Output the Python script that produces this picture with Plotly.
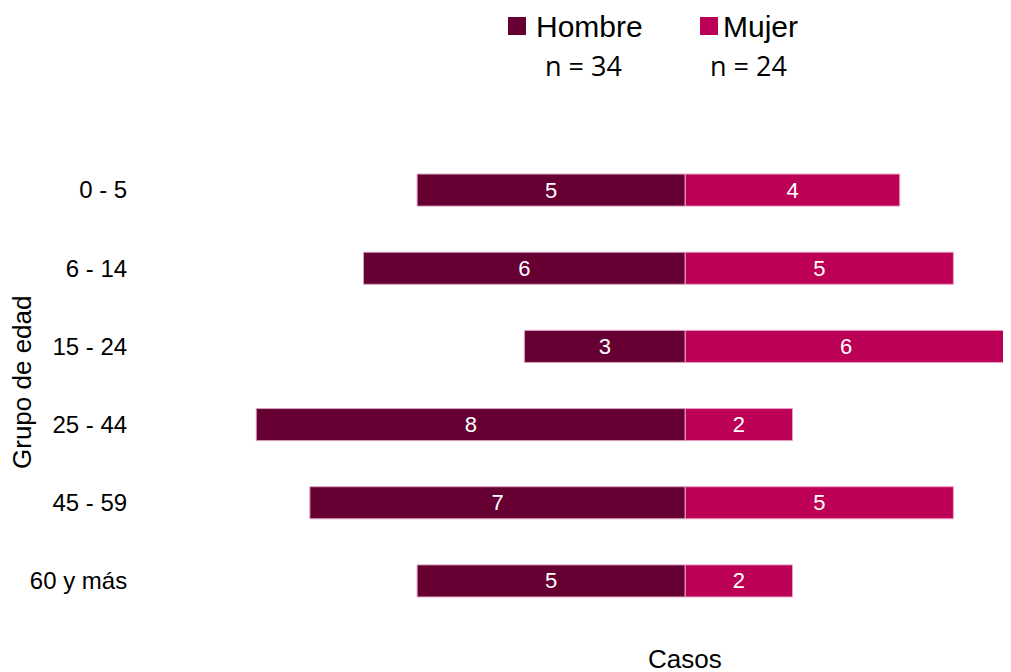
import plotly.graph_objects as go

age_groups = ["0 - 5", "6 - 14", "15 - 24", "25 - 44", "45 - 59", "60 y más"]
hombre = [5, 6, 3, 8, 7, 5]
mujer = [4, 5, 6, 2, 5, 2]
series_names = ["Hombre", "Mujer"]
series_n = [34, 24]
colors = ["#660033", "#BB0055"]

W, H = 1011, 672
OFF = 8  # page body margin
ML, MR, MT, MB = 141, 12, 143, 60
PW, PH = W - ML - MR, H - MT - MB


def px(xp):
    return (xp - OFF - ML) / PW


def py(yp):
    return (H - MB - (yp - OFF)) / PH


fig = go.Figure()
fig.add_trace(go.Bar(
    y=age_groups, x=[-v for v in hombre], orientation="h", name=series_names[0],
    marker=dict(color=colors[0], line=dict(color="#D9A0BC", width=1)),
    text=[str(v) for v in hombre], textposition="inside", insidetextanchor="middle",
    textfont=dict(color="white", size=22, family="Liberation Sans"),
    width=0.41, showlegend=False,
))
fig.add_trace(go.Bar(
    y=age_groups, x=mujer, orientation="h", name=series_names[1],
    marker=dict(color=colors[1], line=dict(color="#E8A0C4", width=1)),
    text=[str(v) for v in mujer], textposition="inside", insidetextanchor="middle",
    textfont=dict(color="white", size=22, family="Liberation Sans"),
    width=0.41, showlegend=False,
))

fig.update_layout(
    barmode="relative",
    width=W, height=H,
    margin=dict(l=ML, r=MR, t=MT, b=MB),
    plot_bgcolor="white", paper_bgcolor="white",
    font=dict(family="Liberation Sans", color="black"),
    showlegend=False,
    xaxis=dict(range=[-10, 6], showticklabels=False, showgrid=False, zeroline=False,
               showline=False, ticks="", automargin=False),
    yaxis=dict(autorange="reversed", showgrid=False, zeroline=False, showline=False,
               ticks="outside", ticklen=16, tickcolor="rgba(0,0,0,0)", automargin=False,
               tickfont=dict(size=24, family="Liberation Sans")),
)

# manual legend
sq_x = [508, 700]
txt_x = [534, 721]
n_x = [583, 748]
for i in range(2):
    fig.add_shape(type="rect", xref="paper", yref="paper",
                  x0=px(sq_x[i]), x1=px(sq_x[i] + 18), y0=py(35), y1=py(17),
                  fillcolor=colors[i], line=dict(width=0))
    fig.add_annotation(x=px(txt_x[i]), xref="paper", y=py(26), yref="paper",
                       xanchor="left", yanchor="middle", text=series_names[i], showarrow=False,
                       font=dict(size=30, family="Liberation Sans", color="black"))
    fig.add_annotation(x=px(n_x[i]), xref="paper", y=py(66), yref="paper",
                       xanchor="center", yanchor="middle", text=f"n = {series_n[i]}",
                       showarrow=False, font=dict(size=27, family="Open Sans", color="black"))

fig.add_annotation(x=0, xref="x", y=py(659), yref="paper", text="Casos",
                   xanchor="center", yanchor="middle", showarrow=False,
                   font=dict(size=26, family="Liberation Sans", color="black"))
fig.add_annotation(x=px(22), xref="paper", y=py(382), yref="paper", text="Grupo de edad",
                   xanchor="center", yanchor="middle", textangle=-90, showarrow=False,
                   font=dict(size=26, family="Liberation Sans", color="black"))

fig.write_html("out.html")
